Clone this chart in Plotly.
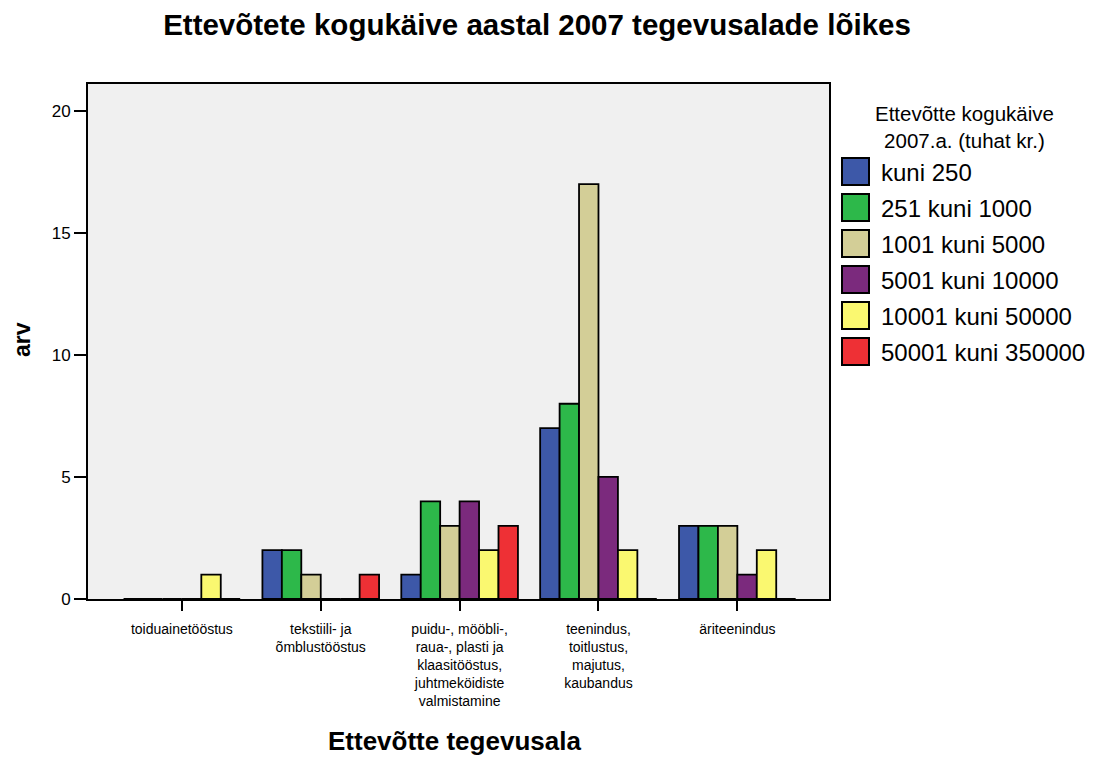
import plotly.graph_objects as go

categories = [
    "toiduainetööstus",
    "tekstiili- ja<br>õmblustööstus",
    "puidu-, mööbli-,<br>raua-, plasti ja<br>klaasitööstus,<br>juhtmeköidiste<br>valmistamine",
    "teenindus,<br>toitlustus,<br>majutus,<br>kaubandus",
    "äriteenindus",
]
series_names = ["kuni 250", "251 kuni 1000", "1001 kuni 5000",
                "5001 kuni 10000", "10001 kuni 50000", "50001 kuni 350000"]
series_colors = ["#3D58A8", "#2DB84A", "#D3CE97", "#7B2A7D", "#FAF870", "#EE3035"]
kuni_250 = [0, 2, 1, 7, 3]
k251_1000 = [0, 2, 4, 8, 3]
k1001_5000 = [0, 1, 3, 17, 3]
k5001_10000 = [0, 0, 4, 5, 1]
k10001_50000 = [1, 0, 2, 2, 2]
k50001_350000 = [0, 1, 3, 0, 0]
series_values = [kuni_250, k251_1000, k1001_5000, k5001_10000, k10001_50000, k50001_350000]
y_ticks = [0, 5, 10, 15, 20]
legend_title = "Ettevõtte kogukäive<br>2007.a. (tuhat kr.)"

FONT = "Liberation Sans, Arial, sans-serif"
W, H = 1095, 759
L, R, T, B = 88, 266, 84, 160
PW, PH = W - L - R, H - T - B

def px(x):
    return (x - L) / PW

def py(y):
    return (H - B - y) / PH

fig = go.Figure()
for name, color, vals in zip(series_names, series_colors, series_values):
    fig.add_trace(go.Bar(
        x=categories, y=vals, name=name,
        marker=dict(color=color, line=dict(color="black", width=1.8)),
        showlegend=False,
    ))

# custom legend
shapes = []
annotations = []
for i, (name, color) in enumerate(zip(series_names, series_colors)):
    y0 = 158 + 36 * i
    shapes.append(dict(type="rect", xref="paper", yref="paper",
                       x0=px(842), x1=px(869), y0=py(y0), y1=py(y0 + 27),
                       fillcolor=color, line=dict(color="black", width=2)))
    annotations.append(dict(text=name, xref="paper", yref="paper",
                            x=px(879), y=py(y0 + 14), xanchor="left", yanchor="middle",
                            showarrow=False, font=dict(family=FONT, size=24, color="black")))
annotations.append(dict(text=legend_title, xref="paper", yref="paper",
                        x=px(964), y=py(127),
                        xanchor="center", yanchor="middle", showarrow=False,
                        font=dict(family=FONT, size=20.5, color="black")))
annotations.append(dict(text="<b>Ettevõtte tegevusala</b>", xref="paper", yref="paper",
                        x=px(454), y=py(758), xanchor="center", yanchor="bottom",
                        showarrow=False, font=dict(family=FONT, size=26, color="black")))
annotations.append(dict(text="<b>arv</b>", xref="paper", yref="paper",
                        x=px(22), y=py(340), xanchor="center", yanchor="middle",
                        textangle=-90, showarrow=False,
                        font=dict(family=FONT, size=23, color="black")))

fig.update_layout(
    width=W, height=H,
    margin=dict(l=L, r=R, t=T, b=B),
    paper_bgcolor="white", plot_bgcolor="#F0F0F0",
    barmode="group", bargap=0.16, bargroupgap=0,
    title=dict(text="<b>Ettevõtete kogukäive aastal 2007 tegevusalade lõikes</b>",
               x=537 / W, xanchor="center", y=1 - 25 / H, yanchor="middle",
               font=dict(family=FONT, size=29.5, color="black")),
    shapes=shapes, annotations=annotations,
    font=dict(family=FONT, color="black"),
)
fig.update_xaxes(
    type="category", range=[-0.676, 4.66],
    showline=True, linecolor="black", linewidth=1.5, mirror=True,
    ticks="outside", ticklen=10, tickcolor="black", tickwidth=2,
    ticklabelstandoff=6,
    tickfont=dict(family=FONT, size=14, color="black"),
    showgrid=False, zeroline=False,
)
fig.update_yaxes(
    range=[0, 21.1], tickvals=y_ticks,
    showline=True, linecolor="black", linewidth=2, mirror=True,
    ticks="outside", ticklen=12, tickcolor="black", tickwidth=1.5,
    tickfont=dict(family=FONT, size=17, color="black"),
    showgrid=False, zeroline=False,
)
fig.write_html("out.html", config={"displayModeBar": False},
               post_script="document.body.style.margin='0';document.body.style.overflow='hidden';")
